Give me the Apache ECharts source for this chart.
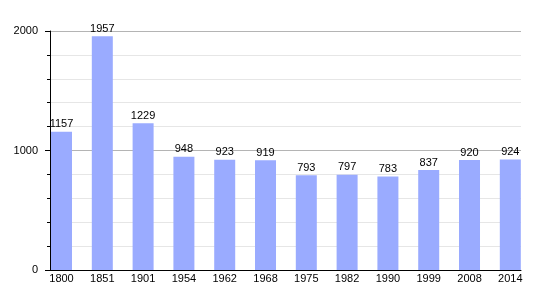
<!DOCTYPE html>
<html><head><meta charset="utf-8">
<script src="https://cdn.jsdelivr.net/npm/echarts@6/dist/echarts.min.js"></script>
<style>html,body{margin:0;padding:0;background:#fff}#c{width:550px;height:300px}</style>
</head><body><div id="c"></div>
<script>
const categories = ['1800','1851','1901','1954','1962','1968','1975','1982','1990','1999','2008','2014'];
const population = [1157,1957,1229,948,923,919,793,797,783,837,920,924];
const yTicks = [0,1000,2000];

const chart = echarts.init(document.getElementById('c'), null, {renderer:'canvas'});
const font = 'Liberation Sans, Arial, sans-serif';
chart.setOption({
  animation:false,
  grid:{left:50,right:29,top:31,bottom:30,containLabel:false},
  xAxis:{
    type:'value', min:-0.282, max:11.262,
    axisLine:{show:true,onZero:false,lineStyle:{color:'#000',width:1}},
    axisTick:{show:false},
    splitLine:{show:false},
    axisLabel:{customValues:categories.map((c,i)=>i),formatter:v=>categories[Math.round(v)],color:'#000',fontSize:11,fontFamily:font,margin:3}
  },
  yAxis:{
    type:'value', min:yTicks[0], max:yTicks[yTicks.length-1], interval:1000,
    axisLine:{show:true,onZero:false,lineStyle:{color:'#000',width:1}},
    axisTick:{show:true,length:5,lineStyle:{color:'#000'}},
    minorTick:{show:true,splitNumber:5,length:3,lineStyle:{color:'#000'}},
    splitLine:{show:true,lineStyle:{color:'#b4b4b4',width:1}},
    minorSplitLine:{show:true,lineStyle:{color:'#e6e6e6',width:1}},
    axisLabel:{color:'#000',fontSize:11,fontFamily:font,margin:12,formatter:v=>String(v)}
  },
  series:[{
    type:'bar',
    data:population.map((v,i)=>[i,v]),
    barWidth:21,
    itemStyle:{color:'#9aabff'},
    label:{show:true,position:'top',distance:2,color:'#000',fontSize:11,fontFamily:font,formatter:p=>p.value[1]}
  }]
});
</script></body></html>
